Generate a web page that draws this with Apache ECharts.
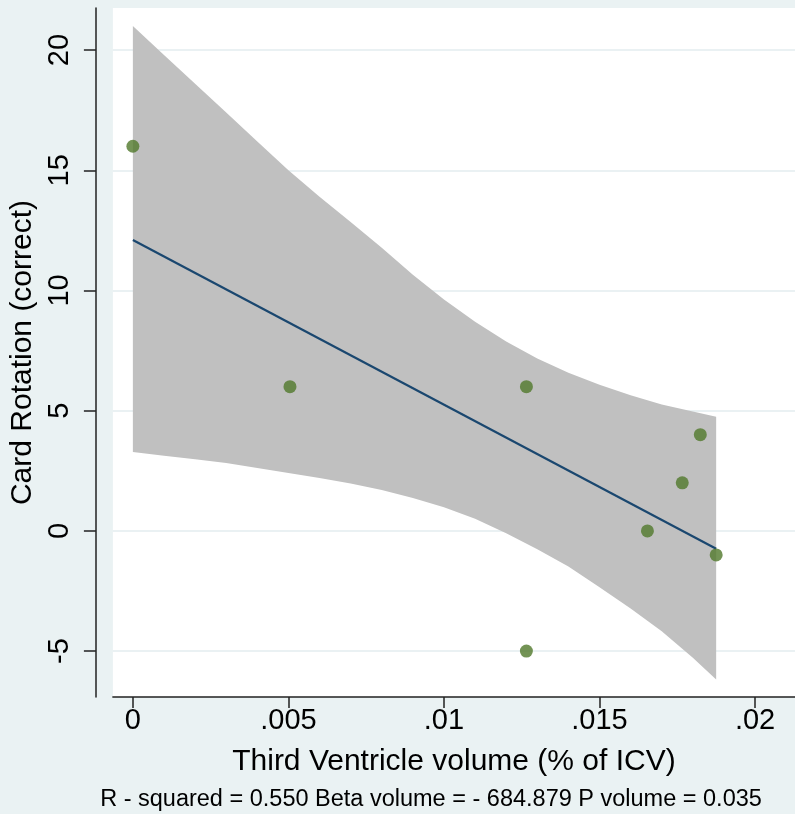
<!DOCTYPE html>
<html>
<head>
<meta charset="utf-8">
<script src="https://cdn.jsdelivr.net/npm/echarts@6/dist/echarts.min.js"></script>
<style>
html, body { margin: 0; padding: 0; background: #eaf2f3; }
#main { width: 795px; height: 814px; }
</style>
</head>
<body>
<div id="main"></div>
<script>
// observed points
var volume = [0, 0.00505, 0.01265, 0.01265, 0.01654, 0.01766, 0.01824, 0.01875];
var rotation = [16, 6, 6, -5, 0, 2, 4, -1];

// linear fit (end points)
var fitX = [0, 0.01875];
var fitY = [12.1, -0.74];

// 95% CI band
var bandX = [0, 0.001, 0.002, 0.003, 0.004, 0.005, 0.006, 0.007, 0.008, 0.009, 0.010, 0.011, 0.012, 0.013, 0.014, 0.015, 0.016, 0.017, 0.018, 0.01875];
var bandUpper = [21.0, 19.8, 18.6, 17.4, 16.2, 15.0, 13.9, 12.85, 11.78, 10.65, 9.62, 8.7, 7.88, 7.17, 6.58, 6.08, 5.64, 5.26, 4.97, 4.75];
var bandLower = [3.28, 3.13, 2.98, 2.82, 2.62, 2.41, 2.2, 1.97, 1.7, 1.37, 0.98, 0.5, -0.1, -0.76, -1.48, -2.34, -3.23, -4.17, -5.28, -6.18];

// axes
var xTicks = [0, 0.005, 0.01, 0.015, 0.02];
var xTickLabels = ['0', '.005', '.01', '.015', '.02'];
var yTicks = [-5, 0, 5, 10, 15, 20];

var font = '"Liberation Sans", Arial, sans-serif';
var chart = echarts.init(document.getElementById('main'));

var bandData = [];
for (var i = 0; i < bandX.length; i++) {
    bandData.push([bandX[i], bandLower[i], bandUpper[i]]);
}

var pts = [];
for (i = 0; i < volume.length; i++) {
    pts.push([volume[i], rotation[i]]);
}

var fit = [];
for (i = 0; i < fitX.length; i++) {
    fit.push([fitX[i], fitY[i]]);
}

chart.setOption({
    backgroundColor: '#eaf2f3',
    animation: false,
    grid: {
        left: 112, right: 0, top: 8, bottom: 117,
        show: true, backgroundColor: '#ffffff', borderWidth: 0
    },
    xAxis: {
        type: 'value',
        min: -0.000642, max: 0.021284,
        name: 'Third Ventricle volume (% of ICV)',
        nameLocation: 'middle',
        nameGap: 50,
        nameTextStyle: { color: '#000', fontSize: 30, fontFamily: font },
        axisLine: { show: true, onZero: false, lineStyle: { color: '#222', width: 1.5 } },
        axisTick: { show: true, length: 11, customValues: xTicks, lineStyle: { color: '#222', width: 1.5 } },
        axisLabel: {
            customValues: xTicks,
            color: '#000', fontSize: 29, fontFamily: font, margin: 9,
            formatter: function (v) {
                var k = xTicks.indexOf(v);
                return k >= 0 ? xTickLabels[k] : '';
            }
        },
        splitLine: { show: false }
    },
    yAxis: {
        type: 'value',
        min: -6.91, max: 21.75,
        offset: 17,
        name: 'Card Rotation (correct)',
        nameLocation: 'middle',
        nameGap: 54,
        nameTextStyle: { color: '#000', fontSize: 30, fontFamily: font },
        axisLine: { show: true, onZero: false, lineStyle: { color: '#222', width: 1.5 } },
        axisTick: { show: true, length: 12, customValues: yTicks, lineStyle: { color: '#222', width: 1.5 } },
        axisLabel: {
            customValues: yTicks,
            rotate: 90,
            color: '#000', fontSize: 29, fontFamily: font, margin: 21
        },
        splitLine: { show: true, lineStyle: { color: '#e3ecef', width: 1.5 } }
    },
    graphic: [{
        type: 'text',
        x: 431,
        y: 800,
        style: {
            text: 'R - squared = 0.550 Beta volume = - 684.879 P volume = 0.035',
            align: 'center', verticalAlign: 'middle',
            fill: '#000', fontSize: 23.5, fontFamily: font
        }
    }],
    series: [
        {
            type: 'custom',
            z: 2,
            silent: true,
            data: bandData,
            renderItem: function (params, api) {
                if (params.dataIndex !== 0) return;
                var poly = [];
                var j;
                for (j = 0; j < bandData.length; j++) {
                    poly.push(api.coord([bandData[j][0], bandData[j][2]]));
                }
                for (j = bandData.length - 1; j >= 0; j--) {
                    poly.push(api.coord([bandData[j][0], bandData[j][1]]));
                }
                return {
                    type: 'polygon',
                    shape: { points: poly },
                    style: { fill: '#c0c0c0' }
                };
            }
        },
        {
            type: 'line',
            z: 3,
            data: fit,
            symbol: 'none',
            lineStyle: { color: '#1a476f', width: 2.2 }
        },
        {
            type: 'scatter',
            z: 4,
            data: pts,
            symbolSize: 13,
            itemStyle: { color: '#50782a' }
        }
    ]
});
</script>
</body>
</html>
